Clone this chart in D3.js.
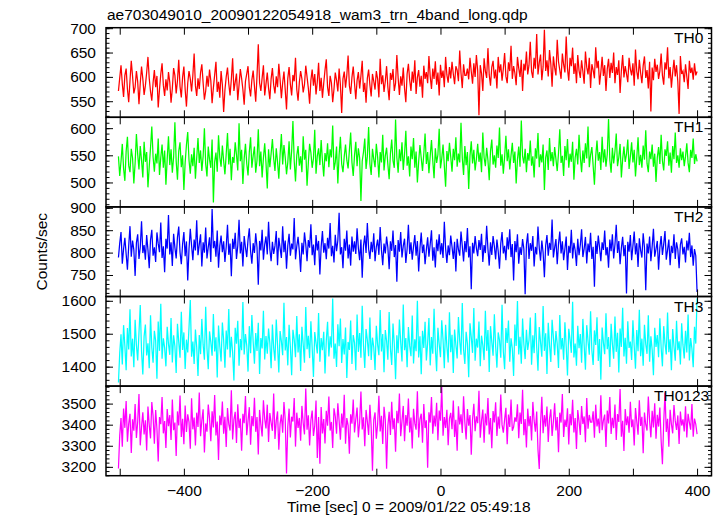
<!DOCTYPE html>
<html><head><meta charset="utf-8">
<script src="https://cdn.jsdelivr.net/npm/d3@7"></script>
<style>body{margin:0;background:#fff;} svg{display:block;} text{font-family:"Liberation Sans",Arial,Helvetica,sans-serif;fill:#000;}</style>
</head><body><svg id="c" width="723" height="516"></svg>
<script>
const title = "ae703049010_20090122054918_wam3_trn_4band_long.qdp";
const xLabel = "Time [sec] 0 = 2009/01/22 05:49:18";
const yLabel = "Counts/sec";
const tStart = -502, binSize = 2;

const th0 = [571,598,624,586,559,603,617,575,548,592,633,601,566,579,612,590,544,587,621,596,
563,582,609,641,597,570,551,588,614,579,602,537,574,606,628,583,561,595,572,610,
589,547,576,618,603,566,592,635,580,558,599,621,574,539,587,612,596,570,603,648,
582,561,597,575,609,626,588,553,571,602,580,615,592,546,578,604,631,569,590,557,
612,584,528,573,600,619,586,562,595,638,571,589,607,552,583,616,597,574,543,591,
606,622,579,560,594,613,581,549,602,667,588,571,598,624,562,585,609,577,554,596,
618,583,566,601,579,627,594,556,588,611,573,533,597,620,585,562,604,591,639,574,
551,589,612,596,568,584,623,600,577,545,593,615,582,606,564,590,629,571,598,557,
587,614,636,579,561,602,588,548,575,609,593,570,617,584,526,596,611,578,603,644,
582,565,599,621,587,554,593,610,576,602,633,569,588,547,597,615,583,560,606,591,
574,612,596,558,637,585,603,569,591,622,579,552,608,594,616,571,587,645,598,563,
601,582,619,576,548,606,627,593,571,611,588,634,565,599,614,580,602,557,623,596,
610,587,643,601,575,617,596,632,584,609,562,625,598,613,579,641,604,588,620,597,
631,606,585,622,614,591,654,608,577,626,603,603,617,595,639,611,586,628,600,645,
613,521,624,607,571,638,612,598,659,604,582,620,633,597,615,576,641,609,626,592,
617,649,601,587,630,612,664,596,622,608,583,641,618,600,635,571,627,613,652,605,
624,672,611,598,639,617,688,605,629,646,593,621,697,612,634,601,655,627,580,642,
619,603,676,631,614,596,648,625,609,683,617,592,639,622,660,606,628,587,645,613,
598,634,611,586,652,620,605,639,577,626,614,597,661,618,633,584,610,641,602,624,
571,616,637,598,629,608,650,587,620,604,634,567,613,645,599,622,606,589,639,616,
603,628,582,656,611,595,635,608,587,623,642,598,614,576,631,529,619,593,637,610,
625,596,612,648,603,584,630,615,661,597,620,578,609,635,601,624,590,524,643,606,
612,589,626,601,575,633,608,619,594,628,603,611];

const th1 = [548,512,539,571,526,503,557,584,531,519,562,545,498,536,589,552,524,567,541,509,
575,538,556,491,529,564,603,547,520,553,535,581,514,546,570,527,559,496,543,585,
532,561,518,547,611,539,505,558,574,528,550,486,537,569,593,541,516,552,530,564,
507,545,582,536,559,521,548,600,534,511,566,542,527,579,463,538,555,520,587,546,
529,568,540,515,553,591,533,562,504,547,536,574,551,522,609,539,560,497,544,571,
535,513,556,583,527,549,566,518,541,598,530,557,509,545,572,536,489,561,528,553,
580,544,521,563,538,507,552,589,533,569,546,515,537,576,524,558,613,540,502,550,
567,531,548,519,585,542,560,494,536,571,555,527,544,597,516,549,563,532,578,540,
511,554,539,572,528,561,546,605,523,537,566,498,551,584,534,519,548,570,541,526,
559,592,537,512,550,575,530,563,545,466,539,556,581,525,548,602,534,514,562,543,
528,571,547,509,556,537,588,522,549,564,533,506,553,579,540,527,616,546,518,561,
539,574,523,552,595,531,548,511,566,543,582,527,557,500,538,569,545,521,553,590,
534,556,517,549,578,540,508,563,536,551,599,526,544,570,531,492,558,539,573,547,
520,562,541,583,529,553,537,610,545,514,567,532,556,488,549,576,535,560,522,543,
571,538,555,519,592,546,530,564,541,504,558,579,533,550,527,568,545,601,531,552,
516,547,586,539,561,524,550,573,536,557,498,542,566,529,614,548,535,562,519,554,
540,577,531,548,509,563,544,591,528,552,537,570,486,546,559,523,582,539,556,530,
565,543,521,554,598,536,549,512,567,541,580,527,553,538,575,505,546,562,533,588,
547,519,559,536,572,544,603,528,551,565,531,496,548,577,540,556,523,584,537,561,
529,552,617,541,518,564,535,557,590,530,546,571,509,543,566,538,552,579,525,548,
574,537,560,511,545,583,532,551,527,568,542,596,535,519,557,543,570,529,553,501,
546,565,534,588,540,522,561,549,576,531,555,518,567,543,592,536,550,527,563,541,
557,530,548,572,536,519,560,545,581,534,552,539];

const th2 = [789,821,846,775,808,833,797,762,815,859,791,827,806,748,822,841,786,812,870,799,
817,784,839,806,765,828,851,793,812,779,845,820,801,867,788,814,756,831,809,884,
796,823,770,842,811,787,834,858,801,774,819,846,792,825,738,808,853,816,783,829,
805,872,794,818,841,769,823,800,856,787,812,834,779,897,810,826,791,849,766,815,
838,801,825,779,813,862,795,820,747,831,808,844,786,815,873,798,824,769,837,811,
790,829,854,803,775,821,799,843,812,728,826,805,851,784,818,836,796,869,808,781,
824,797,815,848,772,833,810,788,859,801,827,764,816,842,793,820,807,877,785,814,
835,803,757,822,796,845,819,781,828,811,863,794,818,772,839,805,826,751,813,848,
800,821,785,833,809,866,792,815,778,840,803,827,889,796,812,765,831,804,849,787,
818,771,836,802,825,797,854,810,783,829,744,815,838,799,866,808,786,824,801,843,
781,813,829,795,857,806,772,820,798,836,811,763,825,804,849,790,817,735,828,802,
846,789,815,831,777,808,862,797,823,784,814,839,793,826,758,810,845,799,818,774,
806,834,791,819,850,782,812,767,829,803,841,796,821,788,869,809,777,816,794,838,
813,786,824,758,831,807,793,847,815,780,826,801,855,789,814,718,822,798,837,810,
792,828,806,842,779,817,799,860,808,771,823,795,837,814,785,829,803,764,820,846,
798,815,783,834,807,852,790,819,738,826,801,841,775,812,795,830,808,707,818,843,
786,821,804,837,769,813,796,858,810,782,827,800,745,816,839,793,822,806,874,789,
811,830,774,819,847,798,825,783,809,836,761,815,799,851,787,822,805,770,831,794,
817,852,790,809,835,776,820,801,844,786,813,724,826,797,838,811,781,823,806,849,
794,812,766,829,803,841,787,818,862,799,826,774,810,835,792,817,709,824,802,839,
783,815,847,796,821,768,832,805,789,843,812,716,820,798,836,781,814,853,791,808,
826,762,811,837,795,819,848,784,806,829,772,815,799,841,786,823,807,765,818,832,
796,813,778,827,805,844,790,816,771,808,793,712];

const th3 = [1352,1441,1498,1407,1526,1463,1389,1517,1452,1574,1431,1485,1398,1542,1466,1419,1503,1587,1447,1376,
1492,1528,1434,1471,1395,1556,1458,1412,1509,1479,1363,1537,1448,1591,1424,1486,1457,1401,1521,1469,
1436,1548,1413,1495,1462,1381,1530,1475,1427,1567,1451,1504,1393,1482,1443,1519,1602,1430,1476,1408,
1513,1459,1372,1496,1438,1545,1466,1421,1582,1455,1392,1507,1474,1433,1560,1446,1489,1367,1525,1461,
1416,1534,1480,1397,1510,1452,1575,1428,1491,1444,1358,1518,1470,1539,1403,1484,1450,1596,1437,1499,
1464,1385,1523,1441,1557,1476,1409,1502,1448,1533,1378,1487,1455,1570,1422,1493,1439,1516,1471,1395,
1528,1456,1418,1543,1466,1382,1508,1477,1435,1594,1449,1490,1404,1527,1461,1374,1512,1482,1429,1554,
1443,1498,1387,1521,1468,1412,1581,1453,1494,1426,1538,1457,1369,1505,1472,1440,1563,1415,1487,1450,
1506,1379,1479,1536,1431,1492,1458,1607,1424,1470,1399,1529,1462,1546,1411,1484,1437,1519,1366,1475,
1451,1540,1408,1496,1473,1389,1558,1445,1502,1427,1585,1464,1396,1514,1481,1432,1549,1420,1488,1459,
1390,1524,1467,1435,1572,1446,1499,1383,1511,1478,1421,1566,1454,1405,1531,1469,1362,1495,1441,1543,
1474,1416,1589,1450,1487,1398,1520,1463,1432,1555,1410,1483,1447,1600,1428,1492,1377,1509,1457,1536,
1419,1471,1548,1404,1490,1439,1576,1456,1386,1518,1468,1429,1541,1482,1395,1527,1461,1413,1565,1444,
1497,1381,1513,1466,1425,1551,1477,1436,1593,1452,1408,1506,1470,1368,1532,1489,1442,1578,1418,1485,
1458,1537,1401,1494,1465,1420,1570,1448,1511,1384,1523,1475,1433,1559,1462,1397,1504,1481,1427,1588,
1446,1392,1517,1472,1540,1415,1486,1455,1372,1528,1463,1599,1437,1491,1409,1546,1468,1423,1512,1451,
1480,1549,1406,1495,1441,1563,1459,1388,1520,1474,1430,1584,1448,1501,1378,1533,1466,1414,1542,1490,
1435,1508,1469,1396,1557,1452,1487,1421,1535,1461,1373,1515,1483,1442,1597,1428,1470,1403,1524,1456,
1499,1412,1545,1464,1391,1526,1478,1436,1568,1449,1405,1510,1466,1550,1417,1484,1360,1519,1473,1438,
1562,1453,1490,1399,1530,1469,1424,1552,1445,1503,1382,1516,1460,1579,1431,1488,1409,1538,1457,1476,
1420,1541,1463,1394,1511,1447,1573,1432,1485,1403,1527,1468,1439,1556,1415,1492,1451,1374,1518,1460,
1496,1429,1547,1458,1401,1523,1471,1437,1564,1444,1483,1389,1514,1462,1418,1539,1450,1477,1407,1532,
1466,1425,1509,1443,1558,1419,1487,1454,1398,1521,1470,1608];

const th0123 = [3192,3348,3431,3296,3477,3385,3512,3319,3404,3452,3266,3426,3371,3498,3337,3413,3545,3302,3389,3459,
3354,3421,3278,3486,3398,3335,3507,3442,3310,3469,3381,3225,3436,3402,3531,3359,3417,3289,3474,3393,
3446,3327,3519,3374,3410,3251,3463,3396,3538,3342,3428,3307,3491,3365,3449,3412,3286,3525,3378,3434,
3301,3457,3389,3552,3345,3420,3473,3268,3406,3367,3495,3431,3322,3464,3387,3541,3349,3415,3233,3443,
3398,3510,3357,3437,3294,3479,3402,3372,3563,3330,3424,3461,3313,3497,3384,3429,3276,3452,3407,3536,
3350,3418,3483,3305,3441,3393,3528,3366,3436,3259,3470,3401,3344,3516,3427,3382,3495,3318,3455,3409,
3371,3548,3332,3419,3463,3281,3404,3448,3362,3507,3425,3168,3391,3476,3339,3438,3415,3526,3296,3457,
3385,3432,3324,3489,3408,3354,3571,3376,3445,3301,3421,3467,3347,3394,3515,3242,3436,3215,3484,3358,
3427,3311,3466,3395,3533,3372,3413,3289,3478,3440,3357,3501,3418,3329,3453,3386,3542,3310,3431,3397,
3262,3449,3405,3519,3363,3426,3481,3340,3412,3557,3377,3435,3298,3470,3416,3351,3494,3389,3182,3423,
3458,3334,3401,3537,3368,3442,3309,3485,3422,3191,3396,3461,3351,3509,3379,3430,3272,3466,3407,3548,
3345,3417,3489,3321,3446,3395,3524,3363,3434,3287,3475,3406,3376,3558,3339,3427,3452,3314,3498,3384,
3421,3196,3459,3410,3531,3357,3443,3392,3504,3326,3467,3419,3580,3348,3436,3385,3471,3302,3429,3456,
3378,3514,3342,3423,3276,3487,3401,3449,3361,3535,3412,3330,3474,3395,3446,3257,3426,3499,3369,3440,
3407,3561,3338,3418,3472,3315,3453,3396,3527,3354,3431,3288,3465,3411,3506,3347,3439,3381,3543,3399,
3362,3424,3480,3307,3448,3389,3519,3371,3388,3435,3414,3497,3336,3458,3403,3566,3350,3427,3292,3476,
3393,3441,3325,3508,3419,3367,3462,3281,3190,3404,3532,3359,3445,3391,3486,3318,3428,3473,3346,3415,
3502,3373,3436,3269,3457,3410,3545,3342,3424,3389,3478,3306,3451,3397,3518,3363,3432,3285,3469,3416,
3351,3488,3403,3439,3317,3527,3381,3446,3412,3412,3463,3338,3495,3392,3429,3360,3540,3374,3421,3448,
3294,3467,3406,3531,3356,3433,3384,3496,3327,3450,3413,3569,3343,3419,3275,3474,3398,3440,3362,3509,
3388,3425,3301,3479,3415,3352,3516,3394,3437,3264,3458,3401,3372,3534,3419,3340,3466,3387,3502,3333,
3447,3391,3481,3324,3212,3410,3552,3365,3428,3296,3471,3402,3359,3493,3418,3375,3444,3308,3462,3396,
3425,3368,3487,3339,3452,3411,3376,3498,3343,3429,3402,3355];

const panelNames = ["TH0","TH1","TH2","TH3","TH0123"];
const seriesList = [th0, th1, th2, th3, th0123];
const colors = ["#ff0000","#00ff00","#0000ff","#00ffff","#ff00ff"];
const yDomains = [[517,701],[455,620],[702,902],[1341,1613],[3158,3583]];
const yTicks = [[550,600,650,700],[500,550,600],[750,800,850,900],[1400,1500,1600],[3200,3300,3400,3500]];
const yMinorStep = [10,10,10,20,20];
const xTickLabels = [-400,-200,0,200,400];
const xMajorTicks = [-500,-400,-300,-200,-100,0,100,200,300,400];

const svg = d3.select("#c");
const L = 106, R = 711.5, T = 27.7, PH = 89.6;
const x = d3.scaleLinear().domain([-521.4, 422.5]).range([L, R]);

svg.append("text").attr("x", 107).attr("y", 19.5).attr("font-size", 15.5).text(title);

seriesList.forEach((vals, k) => {
  const top = T + k * PH, bot = top + PH;
  const y = d3.scaleLinear().domain(yDomains[k]).range([bot, top]);
  const g = svg.append("g");
  const cid = "clip" + k;
  svg.append("clipPath").attr("id", cid).append("rect")
    .attr("x", L).attr("y", top).attr("width", R - L).attr("height", PH);
  const data = vals.map((v, i) => ({t: tStart + i * binSize, v}));
  const line = d3.line().x(d => x(d.t)).y(d => y(d.v));
  g.append("path").datum(data).attr("clip-path", `url(#${cid})`)
    .attr("fill", "none").attr("stroke", colors[k]).attr("stroke-width", 1.25)
    .attr("stroke-linejoin", "miter").attr("d", line);

  g.append("rect").attr("x", L).attr("y", top).attr("width", R - L).attr("height", PH)
    .attr("fill", "none").attr("stroke", "#000").attr("stroke-width", 1.5);

  const minor = d3.range(Math.ceil(yDomains[k][0] / yMinorStep[k]) * yMinorStep[k], yDomains[k][1], yMinorStep[k]);
  const axL = d3.axisRight(y).tickValues(minor).tickSize(3.5).tickFormat("");
  const axR = d3.axisLeft(y).tickValues(minor).tickSize(3.5).tickFormat("");
  g.append("g").attr("transform", `translate(${L},0)`).call(axL).call(s => s.select(".domain").remove());
  g.append("g").attr("transform", `translate(${R},0)`).call(axR).call(s => s.select(".domain").remove());
  const majL = d3.axisRight(y).tickValues(yTicks[k]).tickSize(7).tickFormat("");
  const majR = d3.axisLeft(y).tickValues(yTicks[k]).tickSize(7).tickFormat("");
  g.append("g").attr("transform", `translate(${L},0)`).call(majL).call(s => s.select(".domain").remove());
  g.append("g").attr("transform", `translate(${R},0)`).call(majR).call(s => s.select(".domain").remove());
  const lab = d3.axisLeft(y).tickValues(yTicks[k]).tickSize(0).tickPadding(10).tickFormat(d3.format("d"));
  g.append("g").attr("transform", `translate(${L},0)`).call(lab)
    .call(s => s.select(".domain").remove())
    .call(s => s.selectAll("text").attr("font-size", 15.5).attr("font-family", "Liberation Sans, Arial, sans-serif").attr("fill", "#000"));

  const axT = d3.axisBottom(x).tickValues(xMajorTicks).tickSize(7).tickFormat("");
  const axB = d3.axisTop(x).tickValues(xMajorTicks).tickSize(7).tickFormat("");
  g.append("g").attr("transform", `translate(0,${top})`).call(axT).call(s => s.select(".domain").remove());
  g.append("g").attr("transform", `translate(0,${bot})`).call(axB).call(s => s.select(".domain").remove());

  g.selectAll(".tick line").attr("stroke", "#000").attr("stroke-width", 1);

  svg.append("text").attr("x", k === 4 ? 654 : 674).attr("y", top + 15)
    .attr("font-size", 15.5).text(panelNames[k]);
});

const bottom = T + 5 * PH;
const xl = d3.axisBottom(x).tickValues(xTickLabels).tickSize(0).tickPadding(9)
  .tickFormat(d => d < 0 ? "\u2212" + Math.abs(d) : String(d));
svg.append("g").attr("transform", `translate(0,${bottom})`).call(xl)
  .call(s => s.select(".domain").remove())
  .call(s => s.selectAll("text").attr("font-size", 15.5).attr("font-family", "Liberation Sans, Arial, sans-serif").attr("fill", "#000"));

svg.append("text").attr("x", (L + R) / 2).attr("y", 511.5).attr("text-anchor", "middle")
  .attr("font-size", 15.5).text(xLabel);
svg.append("text").attr("transform", `translate(47,${T + 2.5 * PH}) rotate(-90)`)
  .attr("text-anchor", "middle").attr("font-size", 15.5).text(yLabel);
</script></body></html>
